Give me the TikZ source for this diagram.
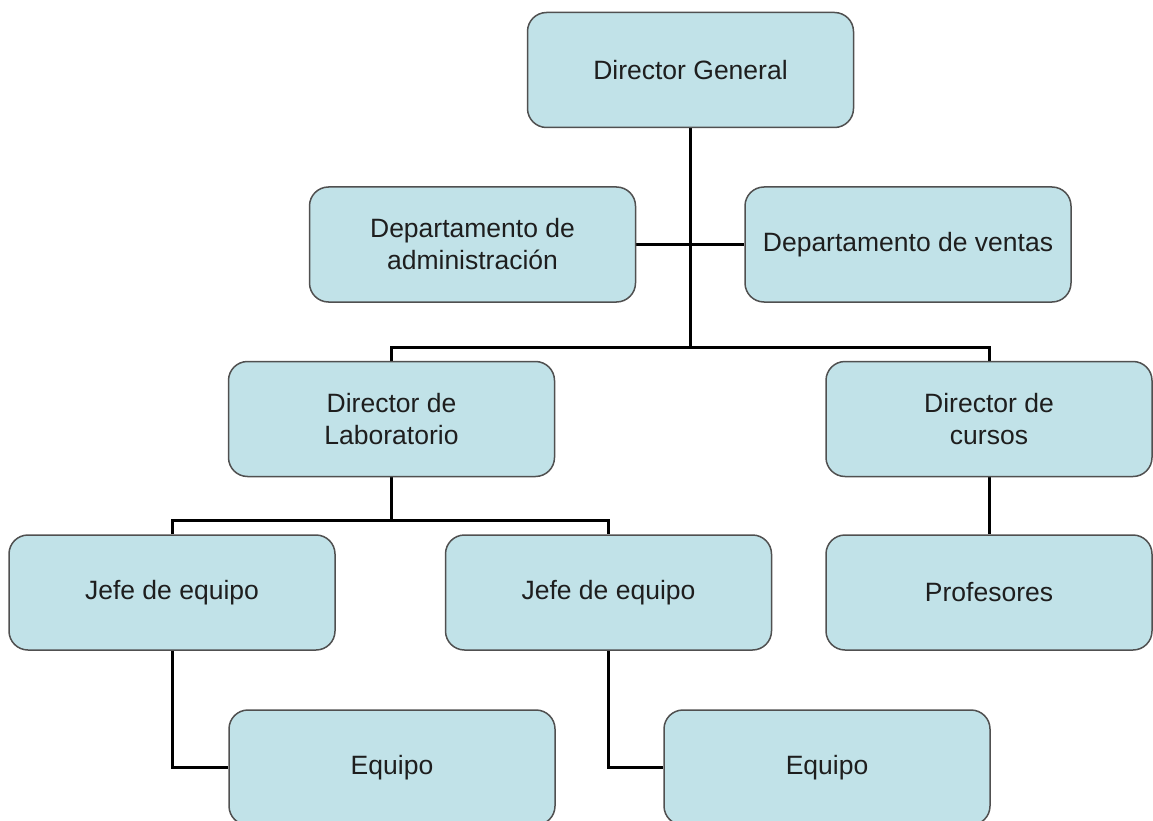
\documentclass[tikz,border=0pt]{standalone}
\usepackage{fontspec}
\setmainfont{Liberation Sans}
\usetikzlibrary{backgrounds}
\definecolor{boxfill}{RGB}{193,226,232}
\definecolor{boxline}{RGB}{80,80,80}
\definecolor{txt}{RGB}{30,30,30}
\tikzset{
  orgbox/.style={draw=boxline, line width=1.5pt, fill=boxfill, rounded corners=19pt,
    minimum width=326pt, minimum height=115pt, inner sep=0pt, align=center,
    text=txt, font=\fontsize{26.5}{32}\selectfont},
  link/.style={draw=black, line width=3pt}
}
\begin{document}
\begin{tikzpicture}[x=1pt,y=-1pt]
\useasboundingbox (0,0) rectangle (1153,821);
\clip (0,0) rectangle (1153,821);
\node[orgbox] (dg) at (690.5,70) {Director General};
\node[orgbox] (da) at (472.5,244.5) {Departamento de\\administración};
\node[orgbox] (dv) at (908,244.5) {Departamento de ventas};
\node[orgbox] (dl) at (391.5,419) {Director de\\Laboratorio};
\node[orgbox] (dc) at (989,419) {Director de\\cursos};
\node[orgbox] (j1) at (172,592.5) {Jefe de equipo};
\node[orgbox] (j2) at (608.5,592.5) {Jefe de equipo};
\node[orgbox] (pr) at (989,592.5) {Profesores};
\node[orgbox] (e1) at (392,767.5) {Equipo};
\node[orgbox] (e2) at (827,767.5) {Equipo};
\coordinate (k1) at (690.5,347.5);
\coordinate (k2) at (391.5,520.5);
\begin{scope}[on background layer]
\draw[link] (dg.south) -- (k1);
\draw[link] (da.east) -- (dv.west);
\draw[link] (dl.north) |- (k1) -| (dc.north);
\draw[link] (dc.south) -- (pr.north);
\draw[link] (dl.south) -- (k2);
\draw[link] (j1.north) |- (k2) -| (j2.north);
\draw[link] (j1.south) |- (e1.west);
\draw[link] (j2.south) |- (e2.west);
\end{scope}
\end{tikzpicture}
\end{document}
